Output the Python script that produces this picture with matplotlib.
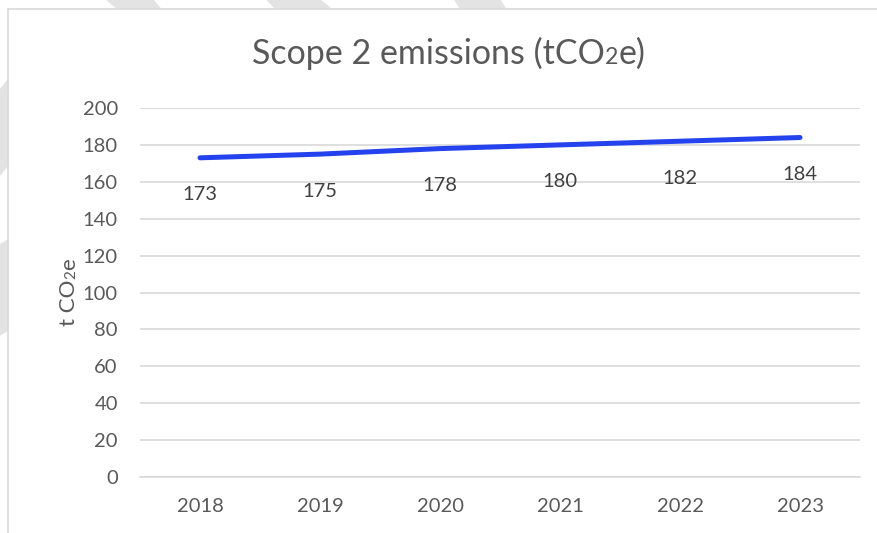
import matplotlib
matplotlib.use('Agg')
import matplotlib.pyplot as plt
from matplotlib.patches import Polygon
from matplotlib.lines import Line2D

years = ['2018', '2019', '2020', '2021', '2022', '2023']
emissions = [173, 175, 178, 180, 182, 184]
y_ticks = [0, 20, 40, 60, 80, 100, 120, 140, 160, 180, 200]

plt.rcParams['font.family'] = ['Lato', 'DejaVu Sans']

W, H = 877, 533
fig = plt.figure(figsize=(W / 100, H / 100), dpi=100)
fig.patch.set_facecolor('white')

# faint watermark bands behind the chart
band_color = '#e3e3e3'
bands = [
    [(107, 0), (153, 0), (160, 8), (117, 8)],
    [(267, 0), (320, 0), (330, 8), (275, 8)],
    [(455, 0), (500, 0), (505, 8), (460, 8)],
    [(0, 90), (8, 80), (8, 165), (0, 175)],
    [(0, 245), (8, 240), (8, 330), (0, 335)],
]
for b in bands:
    fig.patches.append(Polygon([(x / W, 1 - y / H) for x, y in b], closed=True,
                               transform=fig.transFigure, color=band_color, zorder=0))

# chart frame (top and left edges visible)
frame_c = '#d9d9d9'
fig.lines.append(Line2D([8 / W, 1], [1 - 9 / H, 1 - 9 / H], transform=fig.transFigure,
                        color=frame_c, lw=1.2))
fig.lines.append(Line2D([8 / W, 8 / W], [0, 1 - 9 / H], transform=fig.transFigure,
                        color=frame_c, lw=1.2))

ax = fig.add_axes([140 / W, 1 - 477 / H, 720 / W, 369 / H])
x = list(range(len(years)))
ax.plot(x, emissions, color='#2443ee', lw=3.6, solid_capstyle='round', zorder=3)

for xi, v in zip(x, emissions):
    ax.annotate(str(v), (xi, v), xytext=(0, -37), textcoords='offset pixels',
                ha='center', va='center', fontsize=14.5, color='#404040')

ax.set_xlim(-0.5, len(years) - 0.5)
ax.set_ylim(0, 200)
ax.set_yticks(y_ticks)
ax.set_xticks(x)
ax.set_xticklabels(years)
ax.grid(axis='y', color='#d9d9d9', lw=1.2)
ax.set_axisbelow(True)
for s in ['top', 'right', 'left']:
    ax.spines[s].set_visible(False)
ax.spines['bottom'].set_color('#d9d9d9')
ax.spines['bottom'].set_linewidth(1.2)
ax.tick_params(axis='both', length=0, labelsize=14.5, labelcolor='#595959')
ax.tick_params(axis='y', pad=16)
ax.tick_params(axis='x', pad=15)

fig.canvas.draw()
r = fig.canvas.get_renderer()


def piece_text(parts, x0, y0, rot):
    # lay out text pieces one after another (the "2" drawn small on the baseline)
    objs, widths = [], []
    for s, fs in parts:
        t = fig.text(0, 0, s, fontsize=fs, color='#595959', ha='left', va='baseline')
        widths.append(t.get_window_extent(r).width)
        objs.append(t)
    total = sum(widths)
    pos = -total / 2
    for t, w in zip(objs, widths):
        if rot:
            t.set_rotation(90)
            t.set_rotation_mode('anchor')
            t.set_position((x0 / W, 1 - (y0 - pos) / H))
        else:
            t.set_position(((x0 + pos) / W, 1 - y0 / H))
        pos += w


tsize = 24.5
piece_text([('Scope 2 emissions (tCO', tsize), ('2', tsize * 0.68), ('e)', tsize)],
           449, 64, False)
lsize = 16
piece_text([('t CO', lsize), ('2', lsize * 0.68), ('e', lsize)], 75, 292, True)

fig.savefig('out.png', dpi=100)
